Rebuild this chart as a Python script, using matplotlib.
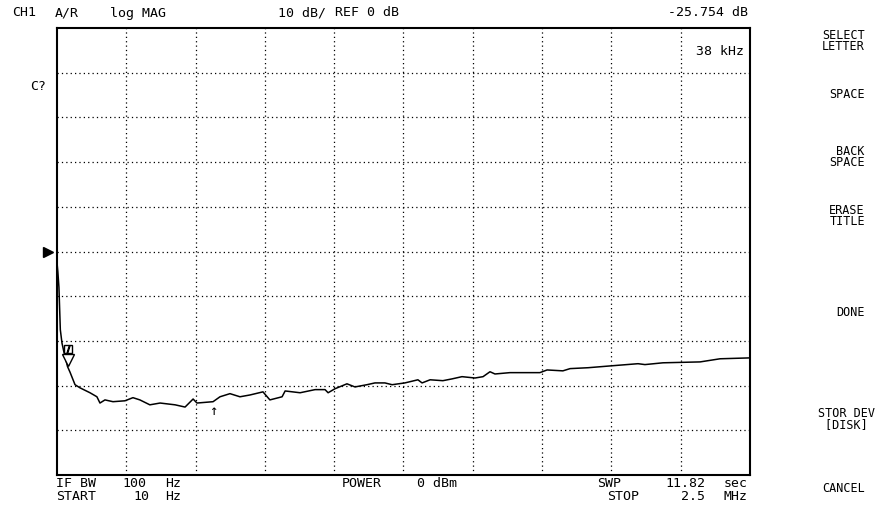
import numpy as np
import matplotlib.pyplot as plt
from matplotlib.transforms import ScaledTranslation, blended_transform_factory

# trace: frequency (kHz) vs magnitude (dB)
freq_khz = [0.01, 3, 7, 12, 18, 25, 38, 47, 65, 83, 119, 144, 155, 173, 202, 245,
            274, 299, 335, 372, 426, 462, 491, 505, 563, 588, 624, 660, 696, 743,
            768, 812, 823, 877, 931, 967, 978, 1003, 1046, 1075, 1118, 1147, 1183,
            1209, 1255, 1302, 1317, 1346, 1392, 1425, 1461, 1508, 1537, 1562, 1580,
            1634, 1742, 1768, 1825, 1851, 1916, 1995, 2096, 2121, 2186, 2320, 2392, 2500]
mag_db = [-2.5, -4.5, -8.0, -17.5, -20.5, -22.5, -25.75, -27.0, -29.8, -30.5, -31.6,
          -32.5, -33.9, -33.2, -33.6, -33.4, -32.7, -33.2, -34.3, -33.9, -34.3, -34.8,
          -33.0, -33.9, -33.6, -32.5, -31.8, -32.5, -32.1, -31.4, -33.2, -32.5, -31.2,
          -31.6, -30.9, -30.9, -31.6, -30.7, -29.6, -30.3, -29.8, -29.4, -29.4, -29.8,
          -29.4, -28.7, -29.4, -28.7, -28.9, -28.5, -28.0, -28.3, -28.0, -26.9, -27.4,
          -27.1, -27.1, -26.5, -26.7, -26.2, -26.0, -25.6, -25.1, -25.3, -24.9, -24.7,
          -24.0, -23.8]

marker_khz = 38
marker_db = -25.754
arrow_khz = 563
start_khz, stop_khz = 0.01, 2500
ref_db, scale_db = 0, 10

W, H = 879, 506
mono = "DejaVu Sans Mono"


def fx(x):
    return x / W


def fy(y):
    return 1 - y / H


fig = plt.figure(figsize=(W / 100, H / 100), dpi=100)
ax = fig.add_axes([fx(57), fy(476), 693 / W, 447 / H])
ax.set_xlim(start_khz, stop_khz)
ax.set_ylim(ref_db - 5 * scale_db, ref_db + 5 * scale_db)
ax.set_xticks([])
ax.set_yticks([])
for s in ax.spines.values():
    s.set_linewidth(1.5)

dots = (0, (1, 2.5))
for x in np.linspace(start_khz, stop_khz, 11)[1:-1]:
    ax.axvline(x, color="black", lw=0.9, ls=dots)
for y in np.arange(-40, 50, 10):
    ax.axhline(y, color="black", lw=0.9, ls=dots)

ax.plot(freq_khz, mag_db, color="black", lw=1.1)

# marker symbols above the trace point
up5 = ax.transData + ScaledTranslation(0, 4.5 / 72, fig.dpi_scale_trans)
up13 = ax.transData + ScaledTranslation(0, 13 / 72, fig.dpi_scale_trans)
ax.plot(marker_khz, marker_db, marker="v", ms=8, mfc="white", mec="black",
        mew=1, transform=up5)
ax.plot(marker_khz, marker_db, marker="s", ms=6, mfc="white", mec="black",
        mew=1, transform=up13)
ax.plot(marker_khz, marker_db, marker="$/$", ms=5, color="black", transform=up13)

ax.annotate("↑", xy=(arrow_khz, np.interp(arrow_khz, freq_khz, mag_db)),
            xytext=(0, -1), textcoords="offset points", ha="center", va="top",
            fontsize=10, family=mono)

# reference level pointer
bt = blended_transform_factory(ax.transAxes, ax.transData)
ax.plot([-0.013], [ref_db], marker=">", ms=7, color="black", transform=bt,
        clip_on=False)

ax.text(0.992, 0.965, f"{marker_khz} kHz", transform=ax.transAxes, ha="right",
        va="top", fontsize=9.5, family=mono)

# header
fs = 9.5
fig.text(fx(12), fy(13), "CH1", fontsize=fs, family=mono, va="center")
fig.text(fx(55), fy(13), "A/R", fontsize=fs, family=mono, va="center")
fig.text(fx(110), fy(13), "log MAG", fontsize=fs, family=mono, va="center")
fig.text(fx(278), fy(13), f"{scale_db} dB/", fontsize=fs, family=mono, va="center")
fig.text(fx(335), fy(13), f"REF {ref_db} dB", fontsize=fs, family=mono, va="center")
fig.text(fx(748), fy(13), f"{marker_db:.3f} dB", fontsize=fs, family=mono,
         va="center", ha="right")
fig.text(fx(30), fy(86), "C?", fontsize=fs, family=mono, va="center")

# footer
fig.text(fx(56), fy(484), "IF BW", fontsize=fs, family=mono, va="center")
fig.text(fx(122), fy(484), "100", fontsize=fs, family=mono, va="center")
fig.text(fx(165), fy(484), "Hz", fontsize=fs, family=mono, va="center")
fig.text(fx(56), fy(497), "START", fontsize=fs, family=mono, va="center")
fig.text(fx(133), fy(497), "10", fontsize=fs, family=mono, va="center")
fig.text(fx(165), fy(497), "Hz", fontsize=fs, family=mono, va="center")
fig.text(fx(342), fy(484), "POWER", fontsize=fs, family=mono, va="center")
fig.text(fx(417), fy(484), "0 dBm", fontsize=fs, family=mono, va="center")
fig.text(fx(597), fy(484), "SWP", fontsize=fs, family=mono, va="center")
fig.text(fx(705), fy(484), "11.82", fontsize=fs, family=mono, va="center", ha="right")
fig.text(fx(748), fy(484), "sec", fontsize=fs, family=mono, va="center", ha="right")
fig.text(fx(607), fy(497), "STOP", fontsize=fs, family=mono, va="center")
fig.text(fx(705), fy(497), "2.5", fontsize=fs, family=mono, va="center", ha="right")
fig.text(fx(748), fy(497), "MHz", fontsize=fs, family=mono, va="center", ha="right")

# softkey labels (one text per key, lines packed tight like the screen font)
softkeys = [("SELECT\nLETTER", 41, 865), ("SPACE", 94, 865),
            ("BACK\nSPACE", 157, 865), ("ERASE\nTITLE", 216, 865),
            ("DONE", 313, 865), ("STOR DEV\n[DISK] ", 419, 875),
            ("CANCEL", 489, 865)]
for label, y, x in softkeys:
    fig.text(fx(x), fy(y), label, fontsize=8.5, family=mono, va="center",
             ha="right", multialignment="right", linespacing=0.8)

fig.savefig("out.png", dpi=100)
